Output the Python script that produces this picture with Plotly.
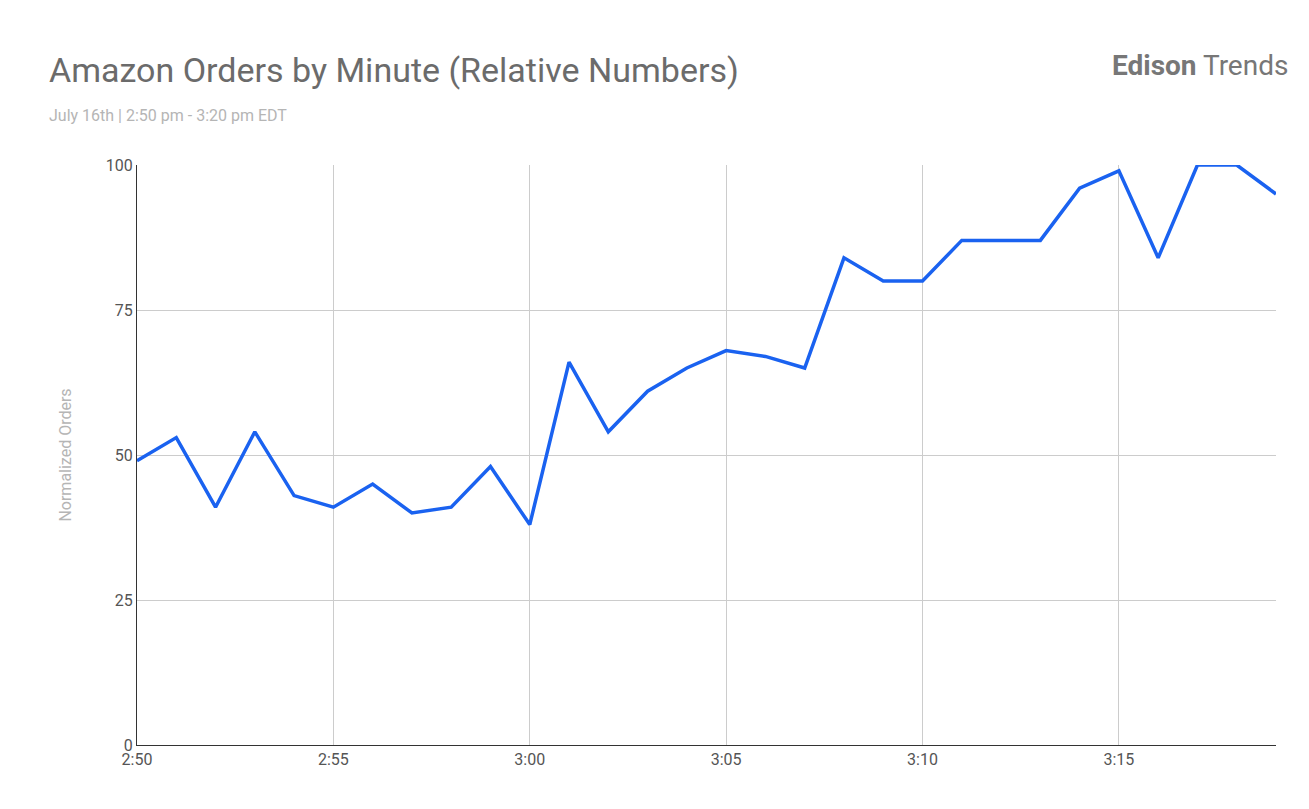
import plotly.graph_objects as go

minutes = list(range(30))
orders = [49, 53, 41, 54, 43, 41, 45, 40, 41, 48, 38, 66, 54, 61, 65, 68, 67, 65, 84, 80,
          80, 87, 87, 87, 96, 99, 84, 100, 100, 95]
tick_vals = [0, 5, 10, 15, 20, 25]
tick_text = ["2:50", "2:55", "3:00", "3:05", "3:10", "3:15"]

fig = go.Figure(go.Scatter(x=minutes, y=orders, mode="lines",
                           line=dict(color="#1a62f0", width=3.5)))
fig.update_layout(
    width=1309, height=809, paper_bgcolor="white", plot_bgcolor="white",
    margin=dict(l=129, r=41, t=157, b=72), showlegend=False,
    font=dict(family="Roboto", color="#666666", size=16),
)
fig.add_annotation(text="Amazon Orders by Minute (Relative Numbers)", xref="paper", yref="paper",
                   x=-0.079, y=1.164, xanchor="left", yanchor="middle", showarrow=False,
                   font=dict(size=34, color="#6b6b6b"))
fig.add_annotation(text="July 16th | 2:50 pm - 3:20 pm EDT", xref="paper", yref="paper",
                   x=-0.079, y=1.086, xanchor="left", yanchor="middle", showarrow=False,
                   font=dict(size=16, color="#b5b5b5"))
fig.add_annotation(text="<b>Edison</b> Trends", xref="paper", yref="paper",
                   x=1.012, y=1.172, xanchor="right", yanchor="middle", showarrow=False,
                   font=dict(size=28, color="#777777"))
fig.update_xaxes(range=[0, 29], tickvals=tick_vals, ticktext=tick_text, showgrid=True,
                 gridcolor="#cccccc", showline=True, linecolor="#333333", ticks="",
                 zeroline=False, automargin=False, tickfont=dict(size=16, color="#555555"))
fig.update_yaxes(range=[0, 100], tickvals=[0, 25, 50, 75, 100], showgrid=True,
                 gridcolor="#cccccc", zeroline=False, showline=True, linecolor="#333333",
                 ticks="", automargin=False, tickfont=dict(size=16, color="#555555"),
                 title=dict(text="Normalized Orders", font=dict(size=16, color="#b5b5b5"), standoff=30))
fig.write_html("out.html")
